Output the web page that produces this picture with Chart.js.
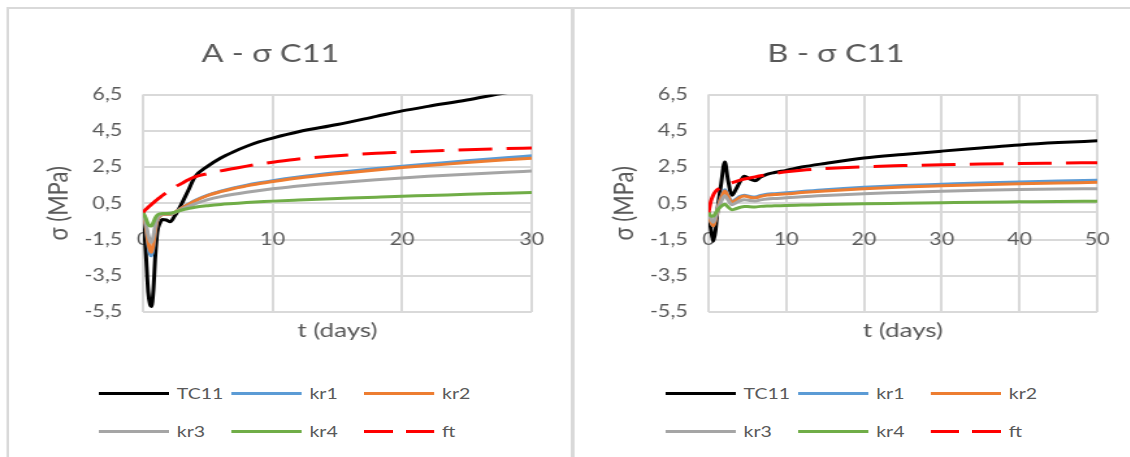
<!DOCTYPE html>
<html>
<head>
<meta charset="utf-8">
<script src="https://cdn.jsdelivr.net/npm/chart.js@4.4.1/dist/chart.umd.min.js"></script>
<style>
  html, body { margin: 0; padding: 0; background: #fff; overflow: hidden; }
  body { width: 1130px; height: 457px; position: relative; }
  /* the reference picture is stretched sideways, so the whole stage is too */
  #stage { position: absolute; left: 0; top: 0; width: 870px; height: 470px; transform: scaleX(1.3); transform-origin: 0 0; }
  .panel { position: absolute; top: 7px; width: 432px; height: 470px; border: 2px solid #d9d9d9; background: #fff; }
  #panelA { left: 5px; }
  #panelB { left: 440px; }
  .panel canvas { position: absolute; left: 0; top: 0; }
  .legend { position: absolute; top: 365px; display: grid; grid-template-columns: repeat(3, 102px); font: 15px Lato, "Open Sans", sans-serif; color: #595959; }
  .item { display: flex; align-items: center; height: 38px; white-space: nowrap; }
  .swatch { width: 54px; height: 3px; margin-right: 6px; flex: none; }
</style>
</head>
<body>
<div id="stage">
  <div class="panel" id="panelA">
    <canvas id="chartA" width="432" height="355"></canvas>
    <div class="legend" id="legendA" style="left:69px"></div>
  </div>
  <div class="panel" id="panelB">
    <canvas id="chartB" width="432" height="355"></canvas>
    <div class="legend" id="legendB" style="left:70px"></div>
  </div>
</div>
<script>
// ==========================
// DATA
// ==========================
const seriesNames = ["TC11", "kr1", "kr2", "kr3", "kr4", "ft"];
const seriesColors = ["#000000", "#5b9bd5", "#ed7d31", "#a5a5a5", "#70ad47", "#ff0000"];
const yTicks = [-5.5, -3.5, -1.5, 0.5, 2.5, 4.5, 6.5];

// --- A ---
const xTicksA = [0, 10, 20, 30];
const tA = [0, 0.2, 0.4, 0.55, 0.65, 0.8, 0.95, 1.1, 1.3, 1.5, 1.8, 2.1, 2.4, 2.7, 3, 3.5, 4, 5, 6, 7, 8, 9, 10, 12, 15, 18, 20, 22, 25, 28, 30];
const tc11A = [0, -2.0, -4.4, -5.1, -5.2, -4.3, -2.4, -1.1, -0.6, -0.4, -0.42, -0.52, -0.25, 0.1, 0.5, 1.22, 1.95, 2.55, 3.0, 3.35, 3.65, 3.9, 4.1, 4.45, 4.85, 5.3, 5.6, 5.85, 6.2, 6.6, 6.8];
const kr1A = [0, -0.7, -1.8, -2.3, -2.4, -1.9, -1.0, -0.45, -0.2, -0.12, -0.1, -0.1, -0.02, 0.1, 0.25, 0.45, 0.65, 0.95, 1.17, 1.35, 1.5, 1.63, 1.75, 1.95, 2.2, 2.42, 2.55, 2.67, 2.85, 3.02, 3.12];
const kr2A = [0, -0.65, -1.65, -2.1, -2.2, -1.75, -0.95, -0.42, -0.2, -0.12, -0.1, -0.1, -0.02, 0.1, 0.24, 0.44, 0.63, 0.93, 1.14, 1.32, 1.46, 1.59, 1.7, 1.9, 2.13, 2.34, 2.47, 2.58, 2.75, 2.9, 2.98];
const kr3A = [0, -0.5, -1.25, -1.6, -1.65, -1.3, -0.7, -0.32, -0.16, -0.1, -0.08, -0.08, -0.02, 0.07, 0.18, 0.33, 0.47, 0.7, 0.87, 1.0, 1.11, 1.21, 1.3, 1.46, 1.64, 1.8, 1.9, 1.99, 2.11, 2.22, 2.28];
const kr4A = [0, -0.3, -0.65, -0.75, -0.75, -0.55, -0.3, -0.15, -0.08, -0.06, -0.06, -0.05, 0, 0.07, 0.13, 0.21, 0.28, 0.37, 0.44, 0.49, 0.54, 0.58, 0.62, 0.68, 0.76, 0.84, 0.89, 0.93, 1.0, 1.06, 1.1];
const ftA = [0, 0.15, 0.28, 0.38, 0.44, 0.53, 0.62, 0.71, 0.82, 0.93, 1.08, 1.22, 1.36, 1.49, 1.6, 1.8, 1.96, 2.14, 2.29, 2.42, 2.55, 2.67, 2.77, 2.95, 3.12, 3.26, 3.32, 3.38, 3.46, 3.52, 3.55];

// --- B ---
const xTicksB = [0, 10, 20, 30, 40, 50];
const tB = [0, 0.3, 0.6, 0.9, 1.2, 1.6, 2.1, 2.5, 3, 3.5, 4, 4.6, 5.3, 6, 6.7, 7.5, 8.5, 10, 12, 15, 20, 25, 30, 35, 40, 45, 50];
const tc11B = [0, -0.9, -1.6, -1.0, 0.3, 1.5, 2.78, 1.8, 0.95, 1.25, 1.65, 2.0, 1.85, 1.75, 1.95, 2.1, 2.2, 2.32, 2.5, 2.7, 3.0, 3.2, 3.38, 3.55, 3.72, 3.85, 3.95];
const kr1B = [0, -0.5, -0.75, -0.35, 0.25, 0.8, 1.25, 0.95, 0.6, 0.72, 0.87, 0.95, 0.88, 0.85, 0.93, 1.0, 1.03, 1.08, 1.15, 1.25, 1.38, 1.48, 1.55, 1.62, 1.68, 1.73, 1.77];
const kr2B = [0, -0.5, -0.75, -0.35, 0.22, 0.75, 1.18, 0.9, 0.55, 0.67, 0.82, 0.9, 0.83, 0.8, 0.88, 0.95, 0.98, 1.02, 1.09, 1.18, 1.3, 1.4, 1.47, 1.53, 1.58, 1.62, 1.66];
const kr3B = [0, -0.35, -0.55, -0.25, 0.18, 0.58, 0.92, 0.7, 0.42, 0.52, 0.63, 0.7, 0.65, 0.63, 0.69, 0.74, 0.77, 0.8, 0.86, 0.93, 1.03, 1.1, 1.17, 1.22, 1.26, 1.29, 1.31];
const kr4B = [0, -0.2, -0.22, -0.05, 0.15, 0.32, 0.45, 0.3, 0.15, 0.2, 0.27, 0.33, 0.31, 0.3, 0.33, 0.35, 0.36, 0.38, 0.4, 0.43, 0.47, 0.5, 0.53, 0.56, 0.58, 0.6, 0.61];
const ftB = [0, 0.6, 0.95, 1.15, 1.27, 1.38, 1.5, 1.56, 1.63, 1.7, 1.77, 1.84, 1.9, 1.96, 2.02, 2.08, 2.15, 2.24, 2.33, 2.42, 2.52, 2.58, 2.63, 2.67, 2.7, 2.72, 2.74];

// ==========================
// CHART SETUP
// ==========================
Chart.defaults.font.family = "Lato, 'Open Sans', sans-serif";
Chart.defaults.color = "#595959";

const gridColor = "#d9d9d9";

function makeDatasets(t, series) {
  return series.map((vals, i) => ({
    label: seriesNames[i],
    data: t.map((x, j) => ({ x: x, y: vals[j] })),
    borderColor: seriesColors[i],
    backgroundColor: seriesColors[i],
    borderWidth: 3,
    borderDash: seriesNames[i] === "ft" ? [26, 11] : [],
    pointRadius: 0,
    cubicInterpolationMode: "monotone",
    fill: false,
    order: series.length - i, // excel draws the last series on top
  }));
}

function makeChart(canvasId, title, xTicks, t, series) {
  const xMax = xTicks[xTicks.length - 1];
  return new Chart(document.getElementById(canvasId), {
    type: "line",
    data: { datasets: makeDatasets(t, series) },
    options: {
      responsive: false,
      animation: false,
      layout: { padding: { left: 0, right: 30, top: 0, bottom: 0 } },
      plugins: {
        legend: { display: false },
        tooltip: { enabled: false },
        title: {
          display: true,
          text: title,
          color: "#595959",
          font: { size: 25, weight: "normal" },
          padding: { top: 29.7, bottom: 25.9 },
        },
      },
      scales: {
        x: {
          type: "linear",
          min: 0,
          max: xMax,
          afterBuildTicks: (scale) => { scale.ticks = xTicks.map((v) => ({ value: v })); },
          ticks: { display: false },
          grid: { color: gridColor, lineWidth: 2, drawTicks: false },
          border: { display: false },
          title: { display: true, text: "t (days)", font: { size: 20 }, padding: { top: 7, bottom: 21 } },
        },
        // axis line through y = 0 carrying the day labels
        x0: {
          type: "linear",
          axis: "x",
          position: { y: 0 },
          min: 0,
          max: xMax,
          afterBuildTicks: (scale) => { scale.ticks = xTicks.map((v) => ({ value: v })); },
          afterFit: (scale) => { scale.height = 0; },
          ticks: { padding: 17, font: { size: 16.5 }, maxRotation: 0, autoSkip: false },
          grid: { display: false, drawTicks: false },
          border: { display: true, color: gridColor, width: 2 },
        },
        y: {
          min: -5.5,
          max: 6.5,
          afterBuildTicks: (scale) => { scale.ticks = yTicks.map((v) => ({ value: v })); },
          afterFit: (scale) => { scale.width = 103; },
          ticks: {
            padding: 16,
            font: { size: 16.5 },
            callback: (v) => String(v).replace(".", ","),
          },
          grid: { color: gridColor, lineWidth: 2, drawTicks: false },
          border: { display: false },
          title: { display: true, text: "σ (MPa)", font: { size: 22 }, padding: { top: 24.4, bottom: 0 } },
        },
      },
    },
  });
}

function buildLegend(elId) {
  const box = document.getElementById(elId);
  seriesNames.forEach((name, i) => {
    const item = document.createElement("div");
    item.className = "item";
    const sw = document.createElement("span");
    sw.className = "swatch";
    if (name === "ft") {
      sw.style.background = "linear-gradient(to right, " + seriesColors[i] + " 0 22px, transparent 22px 32px, " + seriesColors[i] + " 32px 54px)";
    } else {
      sw.style.background = seriesColors[i];
    }
    const txt = document.createElement("span");
    txt.textContent = name;
    item.appendChild(sw);
    item.appendChild(txt);
    box.appendChild(item);
  });
}

makeChart("chartA", "A - σ C11", xTicksA, tA, [tc11A, kr1A, kr2A, kr3A, kr4A, ftA]);
makeChart("chartB", "B - σ C11", xTicksB, tB, [tc11B, kr1B, kr2B, kr3B, kr4B, ftB]);
buildLegend("legendA");
buildLegend("legendB");
</script>
</body>
</html>
